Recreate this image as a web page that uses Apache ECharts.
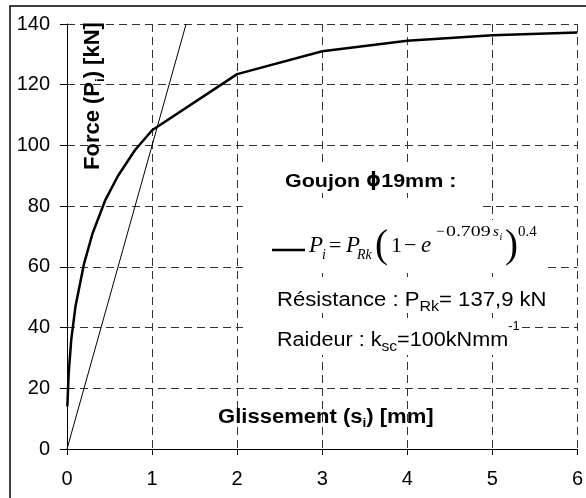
<!DOCTYPE html>
<html>
<head>
<meta charset="utf-8">
<script src="https://cdn.jsdelivr.net/npm/echarts@6/dist/echarts.min.js"></script>
<style>
html,body{margin:0;padding:0;background:#fff;}
#chart{width:586px;height:498px;}
</style>
</head>
<body>
<div id="chart"></div>
<script>
// ---- data ----
const slip  = [0.004, 0.02, 0.05, 0.1, 0.2, 0.3, 0.45, 0.6, 0.8, 1, 2, 3, 4, 5, 6];          // s_i [mm]
const force = [14, 25, 36, 47, 61, 71, 82, 90, 98.5, 105, 123.5, 131, 134.5, 136.3, 137.2];   // P_i [kN]
const secantSlip  = [0, 1.4];     // k_sc = 100 kN/mm
const secantForce = [0, 140];
const xMin = 0, xMax = 6, xStep = 1;
const yMin = 0, yMax = 140, yStep = 20;

const SANS = "'Liberation Sans', Arial, sans-serif";
const SERIF = "'Liberation Serif', 'Times New Roman', serif";

const mctx = document.createElement('canvas').getContext('2d');
function run(x0, base, parts, sx) {
  let cx = x0;
  const out = [];
  parts.forEach(p => {
    const font = `${p.style || 'normal'} ${p.weight || 'normal'} ${p.size}px ${p.family || SANS}`;
    mctx.font = font;
    const w = mctx.measureText(p.t).width;
    const s = (p.sx || sx || 1);
    out.push({
      type: 'text', z: 10,
      x: (p.x !== undefined ? p.x : cx), y: base + (p.dy || 0) - 0.347 * p.size,
      scaleX: s,
      style: { text: p.t, font: font, fill: '#000', verticalAlign: 'middle', align: 'left' }
    });
    cx = (p.x !== undefined ? p.x : cx) + w * s;
  });
  return out;
}
function rect(x, y, w, h) {
  return { type: 'rect', z: 5, shape: { x: x, y: y, width: w, height: h }, style: { fill: '#fff' } };
}

const graphics = [
  { type: 'rect', z: 20, shape: { x: 10, y: 6, width: 700, height: 700 }, style: { fill: 'none', stroke: '#000', lineWidth: 1.5 } },
  rect(243, 166, 239, 26),
  rect(243, 198, 239, 22),
  rect(243, 220, 300, 53),
  rect(243, 277, 302, 36),
  rect(243, 318, 278, 37),
  { type: 'line', z: 10, shape: { x1: 272, y1: 250, x2: 305, y2: 250 }, style: { stroke: '#000', lineWidth: 2.5 } },
  { type: 'group', x: 101, y: 170, rotation: Math.PI / 2,
    children: run(0, 0, [
      { t: 'Force (P', size: 22, weight: 'bold' },
      { t: 'i', size: 13, weight: 'bold', dy: 4 },
      { t: ') [kN]', size: 22, weight: 'bold' }
    ]) }
].concat(
  run(218, 424, [
    { t: 'Glissement (s', size: 19.5, weight: 'bold' },
    { t: 'i', size: 12, weight: 'bold', dy: 4 },
    { t: ') [mm]', size: 19.5, weight: 'bold' }
  ], 1.13),
  run(285, 188, [
    { t: 'Goujon ', size: 19, weight: 'bold' },
    { t: 'ϕ', size: 19, weight: 'bold', family: "'DejaVu Sans', sans-serif", sx: 1.0 },
    { t: '19mm :', size: 19, weight: 'bold' }
  ], 1.13),
  run(277, 307, [
    { t: 'Résistance : P', size: 20 },
    { t: 'Rk', size: 14.5, dy: 5.5 },
    { t: '= 137,9 kN', size: 20 }
  ], 1.105),
  run(277, 347, [
    { t: 'Raideur : k', size: 20 },
    { t: 'sc', size: 14.5, dy: 5 },
    { t: '=100kNmm', size: 20 },
    { t: '-1', size: 12, dy: -16 }
  ], 1.08),
  // formula  P_i = P_Rk (1 - e^{-0.709 s_i})^0.4
  run(0, 254, [{ t: 'P', x: 309, size: 23, style: 'italic', family: SERIF }]),
  run(0, 260, [{ t: 'i', x: 322, size: 14, style: 'italic', family: SERIF }]),
  run(0, 254, [{ t: '=', x: 329, size: 22, family: SERIF }]),
  run(0, 254, [{ t: 'P', x: 346, size: 23, style: 'italic', family: SERIF }]),
  run(0, 260, [{ t: 'Rk', x: 357, size: 14, style: 'italic', family: SERIF }]),
  run(0, 260, [{ t: '(', x: 375, size: 39, family: SERIF }]),
  run(0, 254, [{ t: '1', x: 391, size: 22, family: SERIF }]),
  run(0, 254, [{ t: '\u2212', x: 404, size: 22, family: SERIF }]),
  run(0, 254, [{ t: 'e', x: 421, size: 23, style: 'italic', family: SERIF }]),
  run(0, 237, [{ t: '\u2212', x: 436, size: 15, family: SERIF }]),
  run(0, 237, [{ t: '0.709', x: 446, size: 15, family: SERIF, sx: 1.32 }]),
  run(0, 237, [{ t: 's', x: 493, size: 15, style: 'italic', family: SERIF }]),
  run(0, 241, [{ t: 'i', x: 499.5, size: 10, style: 'italic', family: SERIF }]),
  run(0, 260, [{ t: ')', x: 505, size: 39, family: SERIF }]),
  run(0, 237, [{ t: '0.4', x: 518, size: 15, family: SERIF }])
);

const gridLine = { show: true, lineStyle: { color: '#333', width: 1, type: [8, 5] } };

const chart = echarts.init(document.getElementById('chart'), null, { renderer: 'canvas' });
chart.setOption({
  animation: false,
  backgroundColor: '#fff',
  grid: { left: 67, right: 3, top: 24, bottom: 49, containLabel: false },
  xAxis: {
    type: 'value', min: xMin, max: xMax, interval: xStep,
    axisLine: { show: true, onZero: false, lineStyle: { color: '#000', width: 1 } },
    axisTick: { show: true, inside: false, length: 6, lineStyle: { color: '#000' } },
    axisLabel: { color: '#000', fontSize: 20, fontFamily: SANS, margin: 20 },
    splitLine: gridLine
  },
  yAxis: {
    type: 'value', min: yMin, max: yMax, interval: yStep,
    axisLine: { show: true, onZero: false, lineStyle: { color: '#000', width: 1 } },
    axisTick: { show: true, inside: false, length: 7, lineStyle: { color: '#000' } },
    axisLabel: { color: '#000', fontSize: 20, fontFamily: SANS, margin: 17 },
    splitLine: gridLine
  },
  series: [
    {
      type: 'line', name: 'Pi', data: slip.map((s, i) => [s, force[i]]),
      showSymbol: false, symbol: 'none', smooth: false,
      lineStyle: { color: '#000', width: 2.5 }, z: 3
    },
    {
      type: 'line', name: 'ksc', data: secantSlip.map((s, i) => [s, secantForce[i]]),
      showSymbol: false, symbol: 'none',
      lineStyle: { color: '#000', width: 1 }, z: 3
    }
  ],
  graphic: graphics
});
</script>
</body>
</html>
